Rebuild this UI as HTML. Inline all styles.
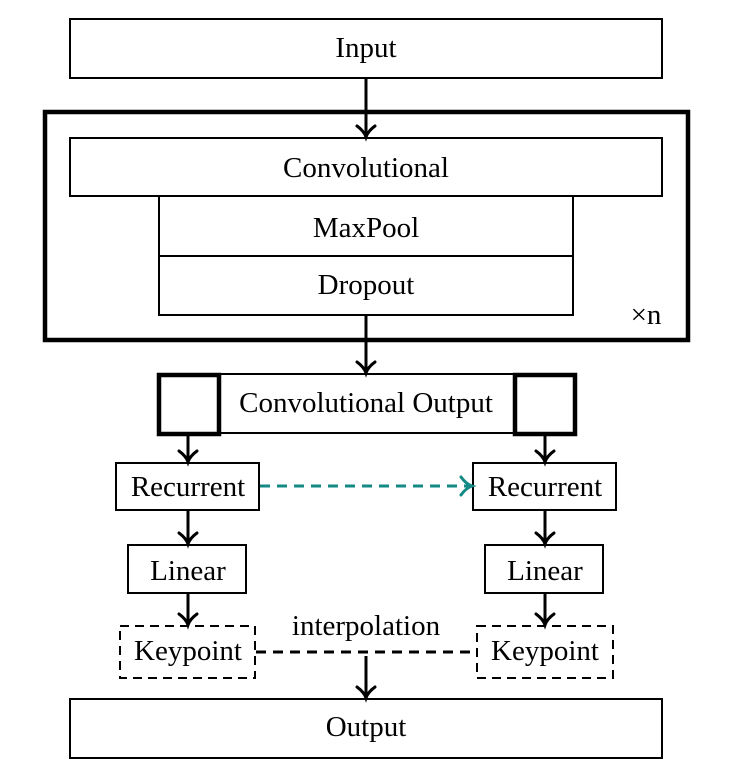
<!DOCTYPE html>
<html><head><style>body{margin:0;background:#fff}svg{display:block}</style></head><body>
<svg width="736" height="784" viewBox="0 0 736 784" xmlns="http://www.w3.org/2000/svg" font-family="Liberation Serif, serif" font-size="29" text-anchor="middle">
<defs>
<path id="ah" d="M-9,-8 Q-2,-3 0,3 Q2,-3 9,-8" fill="none" stroke-width="3" stroke-linecap="round"/>
</defs>
<g fill="none" stroke="#000" stroke-width="2">
<rect x="70" y="19" width="592" height="59"/>
<rect x="45" y="112" width="643" height="228" stroke-width="4.5"/>
<rect x="70" y="138" width="592" height="58"/>
<rect x="159" y="196" width="414" height="60"/>
<rect x="159" y="256" width="414" height="59"/>
<rect x="218" y="374" width="297" height="59"/>
<rect x="159" y="375" width="60" height="59" stroke-width="4.5"/>
<rect x="515" y="375" width="60" height="59" stroke-width="4.5"/>
<rect x="116" y="463" width="143" height="47"/>
<rect x="473" y="463" width="143" height="47"/>
<rect x="128" y="545" width="118" height="48"/>
<rect x="485" y="545" width="118" height="48"/>
<rect x="120" y="626" width="135" height="52" stroke-dasharray="9,6"/>
<rect x="477" y="626" width="136" height="52" stroke-dasharray="9,6"/>
<rect x="70" y="699" width="592" height="59"/>
<g stroke-width="3">
<line x1="366" y1="78" x2="366" y2="136"/>
<line x1="366" y1="315" x2="366" y2="372"/>
<line x1="188" y1="435" x2="188" y2="461"/>
<line x1="545" y1="435" x2="545" y2="461"/>
<line x1="188" y1="510" x2="188" y2="543"/>
<line x1="545" y1="510" x2="545" y2="543"/>
<line x1="188" y1="593" x2="188" y2="624"/>
<line x1="545" y1="593" x2="545" y2="624"/>
<line x1="366" y1="656" x2="366" y2="697"/>
<line x1="256" y1="652" x2="476" y2="652" stroke-dasharray="10,7"/>
<line x1="260" y1="486" x2="468" y2="486" stroke="#138a84" stroke-dasharray="10,7"/>
</g>
</g>
<g stroke="#000">
<use href="#ah" transform="translate(366,134)"/>
<use href="#ah" transform="translate(366,370)"/>
<use href="#ah" transform="translate(188,459)"/>
<use href="#ah" transform="translate(545,459)"/>
<use href="#ah" transform="translate(188,541)"/>
<use href="#ah" transform="translate(545,541)"/>
<use href="#ah" transform="translate(188,622)"/>
<use href="#ah" transform="translate(545,622)"/>
<use href="#ah" transform="translate(366,695)"/>
<use href="#ah" transform="translate(469,486) rotate(-90)" stroke="#138a84"/>
</g>
<g fill="#000">
<text x="366" y="57">Input</text>
<text x="366" y="177">Convolutional</text>
<text x="366" y="237">MaxPool</text>
<text x="366" y="294">Dropout</text>
<text x="646" y="324">×n</text>
<text x="366" y="412">Convolutional Output</text>
<text x="188" y="496">Recurrent</text>
<text x="545" y="496">Recurrent</text>
<text x="188" y="580">Linear</text>
<text x="545" y="580">Linear</text>
<text x="188" y="660">Keypoint</text>
<text x="545" y="660">Keypoint</text>
<text x="366" y="635">interpolation</text>
<text x="366" y="736">Output</text>
</g>
</svg>
</body></html>
